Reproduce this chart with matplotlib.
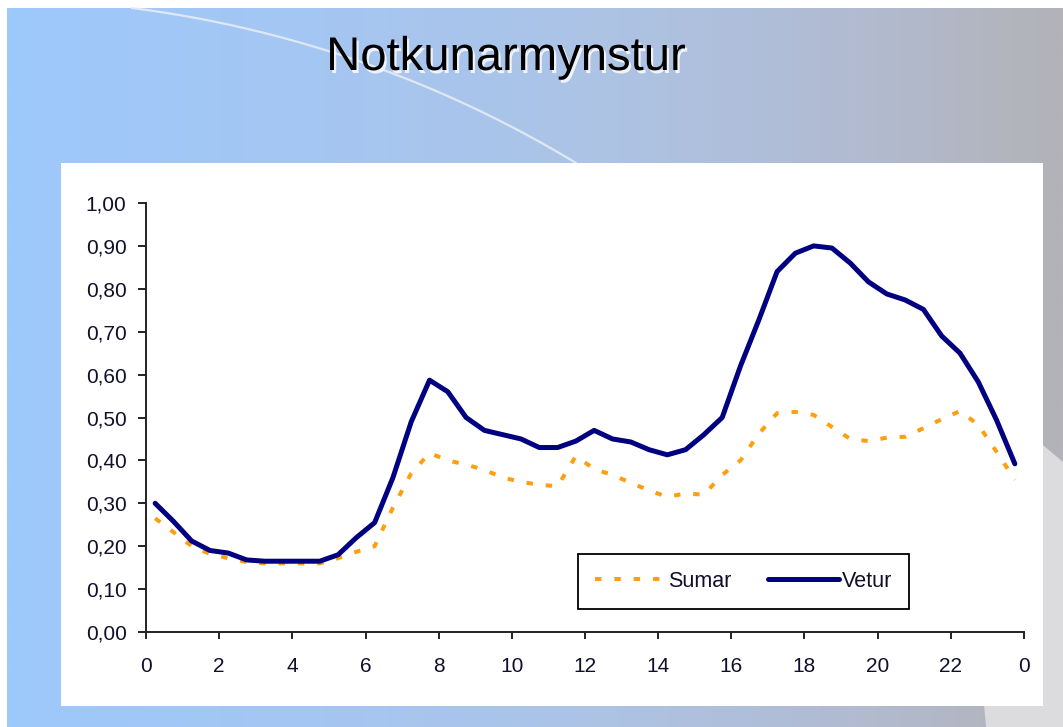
import numpy as np
import matplotlib
matplotlib.use("Agg")
import matplotlib.pyplot as plt
import matplotlib.patheffects as pe
from matplotlib.patches import Rectangle, Polygon
from matplotlib.colors import LinearSegmentedColormap

# ---------------- data ----------------
hours = [0.25 + 0.5 * i for i in range(48)]
sumar = [0.265, 0.233, 0.200, 0.182, 0.172, 0.163, 0.160, 0.160, 0.160, 0.160,
         0.172, 0.187, 0.200, 0.290, 0.370, 0.417, 0.400, 0.390, 0.378, 0.360,
         0.350, 0.343, 0.340, 0.410, 0.380, 0.366, 0.348, 0.330, 0.315, 0.323,
         0.320, 0.366, 0.400, 0.462, 0.510, 0.513, 0.506, 0.478, 0.450, 0.445,
         0.453, 0.455, 0.475, 0.496, 0.515, 0.483, 0.420, 0.355]
vetur = [0.300, 0.258, 0.212, 0.190, 0.184, 0.168, 0.165, 0.165, 0.165, 0.165,
         0.180, 0.220, 0.255, 0.360, 0.490, 0.587, 0.560, 0.500, 0.470, 0.460,
         0.450, 0.430, 0.430, 0.445, 0.470, 0.450, 0.443, 0.425, 0.413, 0.425,
         0.460, 0.500, 0.620, 0.727, 0.840, 0.883, 0.900, 0.895, 0.860, 0.816,
         0.788, 0.774, 0.752, 0.690, 0.650, 0.583, 0.494, 0.392]
xticks = list(range(0, 25, 2))
xticklabels = ["0", "2", "4", "6", "8", "10", "12", "14", "16", "18", "20", "22", "0"]
yticks = [i / 10 for i in range(11)]
yticklabels = ["0,00", "0,10", "0,20", "0,30", "0,40", "0,50", "0,60", "0,70", "0,80", "0,90", "1,00"]
title = "Notkunarmynstur"

W, H = 1063, 727
fig = plt.figure(figsize=(W / 100, H / 100), dpi=100)
fig.patch.set_facecolor("white")

# ---------------- slide background ----------------
bg = fig.add_axes([0, 0, 1, 1])
bg.set_xlim(0, W)
bg.set_ylim(H, 0)
bg.axis("off")
cmap = LinearSegmentedColormap.from_list(
    "slide", [(0.0, "#9DC9FB"), (0.3, "#A5C6F2"), (0.58, "#ADC3E4"),
              (0.8, "#B1BBD1"), (1.0, "#B3B3B8")])
grad = np.linspace(0, 1, 512).reshape(1, -1)
bg.imshow(grad, cmap=cmap, extent=[7, W, H, 8], aspect="auto", zorder=0)

# lighter shape bottom right
bg.add_patch(Polygon([[1025, 430], [1063, 462], [1063, H], [986, H], [975, 600]],
                     closed=True, facecolor="#DCDCDE", edgecolor="none", zorder=1))

# decorative arc
A = np.array([132.0, 8.0]); B = np.array([325.0, 50.0]); C = np.array([576.0, 163.0])
ax_, ay_ = A; bx_, by_ = B; cx_, cy_ = C
d = 2 * (ax_ * (by_ - cy_) + bx_ * (cy_ - ay_) + cx_ * (ay_ - by_))
ux = ((ax_**2 + ay_**2) * (by_ - cy_) + (bx_**2 + by_**2) * (cy_ - ay_) + (cx_**2 + cy_**2) * (ay_ - by_)) / d
uy = ((ax_**2 + ay_**2) * (cx_ - bx_) + (bx_**2 + by_**2) * (ax_ - cx_) + (cx_**2 + cy_**2) * (bx_ - ax_)) / d
r = np.hypot(ax_ - ux, ay_ - uy)
t1 = np.arctan2(ay_ - uy, ax_ - ux); t2 = np.arctan2(cy_ - uy, cx_ - ux)
tt = np.linspace(t1, t2, 200)
bg.plot(ux + r * np.cos(tt), uy + r * np.sin(tt), color="#E6ECF2", lw=1.6, alpha=0.9, zorder=2)

# white chart area
bg.add_patch(Rectangle((61, 163), 1043 - 61, 706 - 163, facecolor="white", edgecolor="none", zorder=3))

# title with light shadow
fig.text(506 / W, 1 - 58 / H, title, fontsize=34, family=["Liberation Sans", "DejaVu Sans"],
         color="black", ha="center", va="center", zorder=6,
         path_effects=[pe.withSimplePatchShadow(offset=(1.6, -2.2), shadow_rgbFace="#F4F6FA", alpha=0.95)])

# ---------------- chart ----------------
left, right = 146 / W, 1024 / W
bottom, top = 1 - 632 / H, 1 - 203 / H
ax = fig.add_axes([left, bottom, right - left, top - bottom])
ax.patch.set_alpha(0)
ax.set_xlim(0, 24)
ax.set_ylim(0, 1.0)

l1, = ax.plot(hours, sumar, color="#FF9F10", lw=2.9, linestyle=(0, (1.6, 3.2)),
              dash_capstyle="butt", label="Sumar", zorder=3)
l2, = ax.plot(hours, vetur, color="#000080", lw=3.6, solid_joinstyle="round",
              solid_capstyle="round", label="Vetur", zorder=4)

for s in ["top", "right"]:
    ax.spines[s].set_visible(False)
for s in ["left", "bottom"]:
    ax.spines[s].set_linewidth(1.4)
    ax.spines[s].set_color("#222222")

ax.set_xticks(xticks)
ax.set_xticklabels(xticklabels)
ax.set_yticks(yticks)
ax.set_yticklabels(yticklabels)
for lab in ax.get_xticklabels() + ax.get_yticklabels():
    lab.set_fontfamily(["Liberation Sans", "DejaVu Sans"])
    lab.set_fontsize(15)
    lab.set_color("#10102A")
ax.tick_params(axis="y", direction="out", length=6, width=1.4, color="#222222", pad=8)
ax.tick_params(axis="x", direction="out", length=5, width=1.4, color="#222222", pad=13)

leg = ax.legend(handles=[l1, l2], loc="center", bbox_to_anchor=(743.5 / W, 1 - 581.5 / H),
                bbox_transform=fig.transFigure, ncol=2, frameon=True, fancybox=False,
                edgecolor="black", framealpha=1, facecolor="white",
                borderpad=0.8, handlelength=3.3, handletextpad=0.1, columnspacing=1.7,
                prop={"family": ["Liberation Sans", "DejaVu Sans"], "size": 15.5})
leg.get_frame().set_linewidth(1.3)
for t in leg.get_texts():
    t.set_color("#10102A")

fig.savefig("out.png", dpi=100)
